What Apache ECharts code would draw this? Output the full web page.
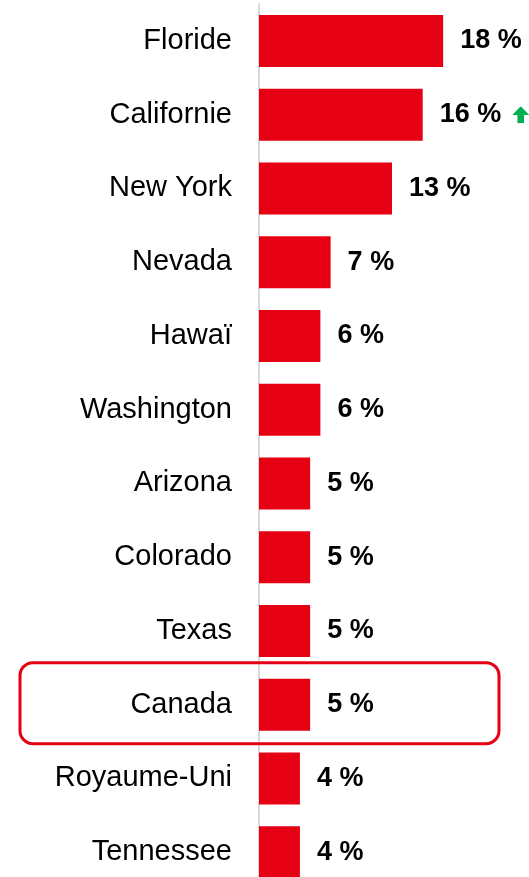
<!DOCTYPE html>
<html>
<head>
<meta charset="utf-8">
<script src="https://cdn.jsdelivr.net/npm/echarts@6/dist/echarts.min.js"></script>
<style>
html,body{margin:0;padding:0;background:#fff;}
#c{width:529px;height:877px;}
</style>
</head>
<body>
<div id="c"></div>
<script>
var categories = ['Floride','Californie','New York','Nevada','Hawaï','Washington','Arizona','Colorado','Texas','Canada','Royaume-Uni','Tennessee'];
var values = [18,16,13,7,6,6,5,5,5,5,4,4];
var trends = ['','up','','','','','','','','','',''];
var highlighted = 'Canada';

var arrowSvg = 'data:image/svg+xml;utf8,' + encodeURIComponent(
  '<svg xmlns="http://www.w3.org/2000/svg" width="17" height="17" viewBox="0 0 17 17">' +
  '<polygon points="8.5,0 17,8.8 11.8,8.8 11.8,17 5.2,17 5.2,8.8 0,8.8" fill="#00b050"/></svg>');

var chart = echarts.init(document.getElementById('c'), null, {renderer:'canvas'});
var FONT = '"Liberation Sans", Arial, sans-serif';

chart.setOption({
  animation:false,
  backgroundColor:'#fff',
  grid:{left:259, width:266, top:4, height:885, containLabel:false, outerBoundsMode:'none'},
  xAxis:{type:'value', min:0, max:26, show:false},
  yAxis:{
    type:'category', data:categories, inverse:true,
    axisLine:{show:true, lineStyle:{color:'#d9d9d9', width:2}},
    axisTick:{show:false},
    splitLine:{show:false},
    axisLabel:{fontSize:29, color:'#000', fontFamily:FONT, margin:27}
  },
  series:[{
    type:'bar',
    data:values,
    barWidth:52,
    itemStyle:{color:'#e60014'},
    label:{
      show:true, position:'right', distance:17,
      formatter:function(p){
        var t = '{v|' + p.value + ' %}';
        if (trends[p.dataIndex] === 'up') t += '{s|}{a|}';
        return t;
      },
      rich:{
        v:{fontSize:27, fontWeight:'bold', color:'#000', fontFamily:FONT},
        s:{width:11, height:17},
        a:{width:17, height:17, backgroundColor:{image:arrowSvg}}
      }
    }
  }]
});

var cy = chart.convertToPixel({yAxisIndex:0}, highlighted);
chart.setOption({
  graphic:[{
    type:'rect',
    shape:{x:20, y:cy-42, width:479, height:81, r:13},
    style:{fill:'none', stroke:'#e60014', lineWidth:3},
    z:10
  }]
});
</script>
</body>
</html>
